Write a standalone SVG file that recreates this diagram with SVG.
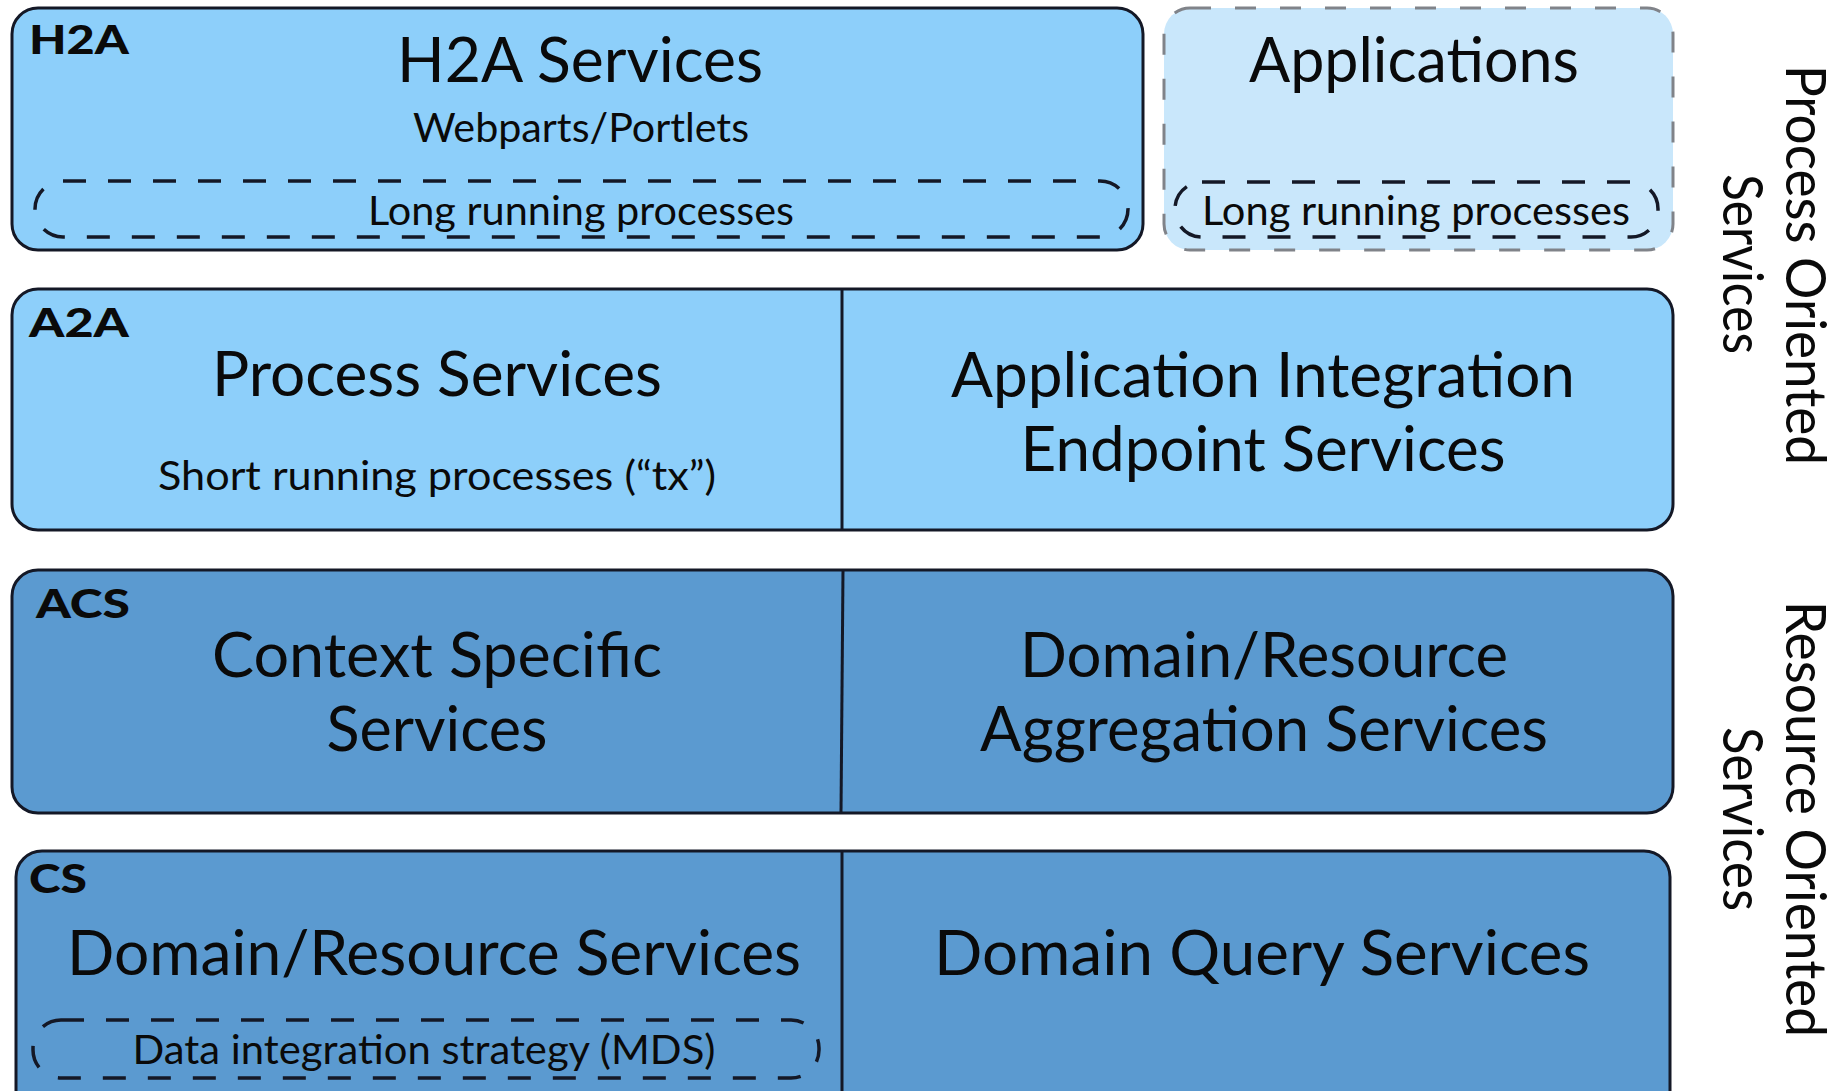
<svg xmlns="http://www.w3.org/2000/svg" width="1847" height="1091" viewBox="0 0 1847 1091">
<style>
.bg{fill:#ffffff}
.light{fill:#8dcffa;stroke:#141826;stroke-width:3}
.dark{fill:#5b9ad0;stroke:#141826;stroke-width:3}
.app{fill:#c9e7fb;stroke:#808389;stroke-width:3;stroke-dasharray:21 24}
.pill{fill:none;stroke:#141826;stroke-width:3.5;stroke-dasharray:23 22}
.div{stroke:#141826;stroke-width:3}
text{font-family:Lato,"Liberation Sans",sans-serif;fill:#0a0a0a}
.t{font-size:62px;text-anchor:middle}
.s{font-size:40px;text-anchor:middle}
.tag{font-size:40px;font-weight:900}
.side{font-size:56px;text-anchor:middle}
</style>
<rect class="bg" x="0" y="0" width="1847" height="1091"/>
<g id="h2a">
<rect class="light" x="12" y="8" width="1131" height="242" rx="26"/>
<text class="tag" x="29" y="54" textLength="100" lengthAdjust="spacingAndGlyphs">H2A</text>
<text class="t" x="580" y="82" textLength="366" lengthAdjust="spacingAndGlyphs">H2A Services</text>
<text class="s" x="581" y="142" textLength="336" lengthAdjust="spacingAndGlyphs">Webparts/Portlets</text>
<rect class="pill" x="35" y="181" width="1093" height="56" rx="28"/>
<text class="s" x="581" y="225" textLength="426" lengthAdjust="spacingAndGlyphs">Long running processes</text>
</g>
<g id="applications">
<rect class="app" x="1164" y="8" width="509" height="242" rx="26"/>
<text class="t" x="1414" y="82" textLength="330" lengthAdjust="spacingAndGlyphs">Applications</text>
<rect class="pill" x="1175" y="182" width="483" height="55" rx="27"/>
<text class="s" x="1416" y="225" textLength="428" lengthAdjust="spacingAndGlyphs">Long running processes</text>
</g>
<g id="a2a">
<rect class="light" x="12" y="289" width="1661" height="241" rx="26"/>
<text class="tag" x="29" y="337" textLength="100" lengthAdjust="spacingAndGlyphs">A2A</text>
</g>
<g id="process-services">
<text class="t" x="437" y="396" textLength="450" lengthAdjust="spacingAndGlyphs">Process Services</text>
<text class="s" x="437" y="490" textLength="558" lengthAdjust="spacingAndGlyphs">Short running processes (“tx”)</text>
</g>
<g id="application-integration">
<text class="t" x="1263" y="397" textLength="624" lengthAdjust="spacingAndGlyphs">Application Integration</text>
<text class="t" x="1263" y="471" textLength="485" lengthAdjust="spacingAndGlyphs">Endpoint Services</text>
</g>
<g id="acs">
<rect class="dark" x="12" y="570" width="1661" height="243" rx="26"/>
<text class="tag" x="36" y="618" textLength="94" lengthAdjust="spacingAndGlyphs">ACS</text>
</g>
<g id="context-specific">
<text class="t" x="437" y="677" textLength="450" lengthAdjust="spacingAndGlyphs">Context Specific</text>
<text class="t" x="437" y="751" textLength="221" lengthAdjust="spacingAndGlyphs">Services</text>
</g>
<g id="domain-aggregation">
<text class="t" x="1264" y="677" textLength="488" lengthAdjust="spacingAndGlyphs">Domain/Resource</text>
<text class="t" x="1264" y="751" textLength="568" lengthAdjust="spacingAndGlyphs">Aggregation Services</text>
</g>
<g id="cs">
<rect class="dark" x="16" y="851" width="1654" height="270" rx="26"/>
<text class="tag" x="29" y="893" textLength="58" lengthAdjust="spacingAndGlyphs">CS</text>
</g>
<g id="domain-resource">
<text class="t" x="434" y="975" textLength="734" lengthAdjust="spacingAndGlyphs">Domain/Resource Services</text>
<rect class="pill" x="33" y="1020" width="786" height="58" rx="28"/>
<text class="s" x="424" y="1064" textLength="583" lengthAdjust="spacingAndGlyphs">Data integration strategy (MDS)</text>
</g>
<g id="domain-query">
<text class="t" x="1262" y="975" textLength="656" lengthAdjust="spacingAndGlyphs">Domain Query Services</text>
</g>
<g id="connectors">
<line class="div" x1="842" y1="289" x2="842" y2="530"/>
<line class="div" x1="843" y1="570" x2="841" y2="813"/>
<line class="div" x1="842" y1="851" x2="842" y2="1091"/>
</g>
<g id="side-labels">
<text class="side" transform="translate(1786,265) rotate(90)" textLength="400" lengthAdjust="spacingAndGlyphs">Process Oriented</text>
<text class="side" transform="translate(1723,264) rotate(90)" textLength="180" lengthAdjust="spacingAndGlyphs">Services</text>
<text class="side" transform="translate(1786,819) rotate(90)" textLength="436" lengthAdjust="spacingAndGlyphs">Resource Oriented</text>
<text class="side" transform="translate(1723,819) rotate(90)" textLength="184" lengthAdjust="spacingAndGlyphs">Services</text>
</g>
</svg>
